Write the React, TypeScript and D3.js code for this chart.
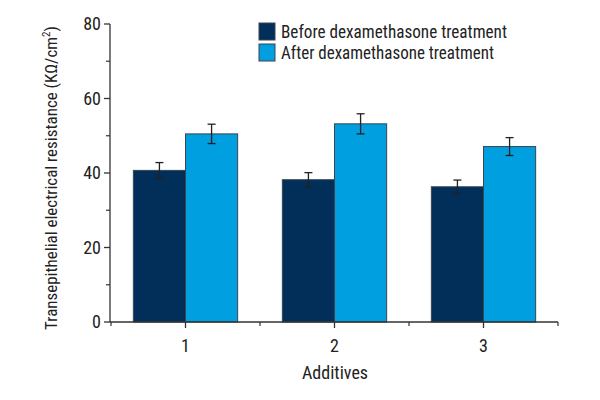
import React from "react";
import * as d3 from "d3";

const categories = ["1", "2", "3"];
const seriesNames = ["Before dexamethasone treatment", "After dexamethasone treatment"];
const beforeValues = [40.7, 38.2, 36.3];
const afterValues = [50.5, 53.2, 47.1];
const beforeErrors = [2.1, 1.9, 1.8];
const afterErrors = [2.6, 2.7, 2.4];
const yTicks = [0, 20, 40, 60, 80];
const yMinorTicks = [10, 30, 50, 70];
const colors = ["#012f5a", "#009fe0"];

const W = 600, H = 400;
const left = 111, right = 558, top = 24, bottom = 322;
const font = "'Liberation Sans Narrow', 'Roboto Condensed', 'DejaVu Sans Condensed', sans-serif";

export default function App() {
  const x = d3.scaleBand().domain(categories).range([left, right]).paddingInner(0).paddingOuter(0);
  const y = d3.scaleLinear().domain([0, 80]).range([bottom, top]);
  const groupW = x.bandwidth() * 0.7;
  const inner = d3.scaleBand().domain(["0", "1"]).range([0, groupW]);
  const series = [
    { vals: beforeValues, errs: beforeErrors },
    { vals: afterValues, errs: afterErrors },
  ];
  const axisColor = "#333";
  const legendLens = [226, 213];
  return (
    <svg width={W} height={H} style={{ position: "absolute", left: 0, top: 0, background: "#fff" }}>
      {categories.map((c, i) => {
        const gx = (x(c) as number) + (x.bandwidth() - groupW) / 2;
        return (
          <g key={c}>
            {series.map((s, j) => {
              const bx = gx + (inner(String(j)) as number);
              const v = s.vals[i];
              const e = s.errs[i];
              const cx = bx + inner.bandwidth() / 2;
              return (
                <g key={j}>
                  <rect x={bx} y={y(v)} width={inner.bandwidth()} height={bottom - y(v)} fill={colors[j]} stroke="#3a4550" strokeWidth={1} />
                  <line x1={cx} x2={cx} y1={y(v + e)} y2={y(v - e)} stroke="#222" strokeWidth={1.3} />
                  <line x1={cx - 4} x2={cx + 4} y1={y(v + e)} y2={y(v + e)} stroke="#222" strokeWidth={1.3} />
                  <line x1={cx - 4} x2={cx + 4} y1={y(v - e)} y2={y(v - e)} stroke="#222" strokeWidth={1.3} />
                </g>
              );
            })}
          </g>
        );
      })}
      <line x1={left - 1} x2={left - 1} y1={top} y2={bottom} stroke={axisColor} strokeWidth={1.3} />
      {yTicks.map((t) => (
        <g key={t}>
          <line x1={left - 7} x2={left - 1} y1={y(t)} y2={y(t)} stroke={axisColor} strokeWidth={1.3} />
          <text x={left - 10} y={y(t)} dy="0.35em" textAnchor="end" fontSize={18} fontFamily={font} fill="#222">{t}</text>
        </g>
      ))}
      {yMinorTicks.map((t) => (
        <line key={t} x1={left - 5} x2={left - 1} y1={y(t)} y2={y(t)} stroke={axisColor} strokeWidth={1.2} />
      ))}
      <line x1={left - 1} x2={right} y1={bottom} y2={bottom} stroke={axisColor} strokeWidth={1.3} />
      {categories.map((c) => {
        const cx = (x(c) as number) + x.bandwidth() / 2;
        return (
          <g key={c}>
            <line x1={cx} x2={cx} y1={bottom} y2={bottom + 6} stroke={axisColor} strokeWidth={1.3} />
            <text x={cx} y={bottom + 24} dy="0.35em" textAnchor="middle" fontSize={18} fontFamily={font} fill="#222">{c}</text>
          </g>
        );
      })}
      {[...categories.map((c) => x(c) as number), right].map((bx, i) => (
        <line key={i} x1={bx} x2={bx} y1={bottom} y2={bottom + 4} stroke={axisColor} strokeWidth={1.2} />
      ))}
      <text x={335} y={bottom + 51} dy="0.35em" textAnchor="middle" fontSize={18} fontFamily={font} fill="#222">Additives</text>
      <text transform={`translate(57,${(top + bottom) / 2 + 5}) rotate(-90)`} textAnchor="middle" fontSize={17} fontFamily={font} fill="#222">
        Transepithelial electrical resistance (KΩ/cm<tspan dy="-7" fontSize={11}>2</tspan><tspan dy="7">)</tspan>
      </text>
      {seriesNames.map((n, j) => (
        <g key={n} transform={`translate(259,${23 + j * 21})`}>
          <rect x={0} y={0} width={16} height={17} fill={colors[j]} stroke="#3a4550" strokeWidth={1} />
          <text x={22} y={9} dy="0.35em" fontSize={18} fontFamily={font} fill="#222" textLength={legendLens[j]} lengthAdjust="spacingAndGlyphs">{n}</text>
        </g>
      ))}
    </svg>
  );
}
